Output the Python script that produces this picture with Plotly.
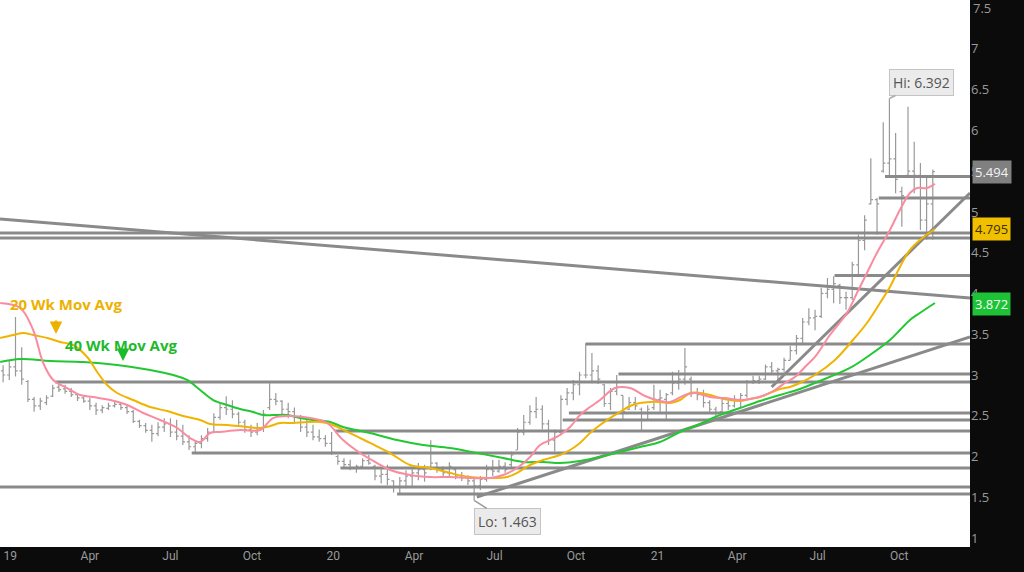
import pandas as pd
import plotly.graph_objects as go

# ---------------- data ----------------
week_start = "2018-12-24"
n_weeks = 151

opens = [3.05, 3.00, 3.10, 3.05, 2.92, 2.70, 2.62, 2.66, 2.74, 2.85,
         2.83, 2.80, 2.76, 2.72, 2.68, 2.62, 2.57, 2.59, 2.62, 2.64,
         2.60, 2.55, 2.43, 2.38, 2.32, 2.28, 2.36, 2.40, 2.30, 2.25,
         2.18, 2.12, 2.16, 2.22, 2.30, 2.48, 2.60, 2.58, 2.52, 2.42,
         2.33, 2.30, 2.35, 2.60, 2.70, 2.68, 2.58, 2.55, 2.48, 2.36,
         2.30, 2.24, 2.22, 2.16, 2.00, 1.94, 1.90, 1.86, 1.88, 1.95,
         1.88, 1.76, 1.78, 1.70, 1.62, 1.70, 1.76, 1.80, 1.84, 1.86,
         1.92, 1.84, 1.80, 1.84, 1.76, 1.74, 1.70, 1.64, 1.72, 1.84,
         1.82, 1.88, 1.90, 2.08, 2.30, 2.42, 2.55, 2.58, 2.40, 2.20,
         2.30, 2.70, 2.78, 2.88, 3.00, 3.00, 3.05, 2.88, 2.65, 2.80,
         2.75, 2.58, 2.66, 2.58, 2.45, 2.60, 2.70, 2.70, 2.78, 2.90,
         2.95, 2.95, 2.78, 2.76, 2.66, 2.58, 2.55, 2.65, 2.62, 2.70,
         2.75, 2.92, 2.93, 2.95, 3.10, 3.05, 3.07, 3.18, 3.30, 3.45,
         3.65, 3.70, 3.72, 4.00, 4.05, 4.10, 3.95, 3.95, 4.35, 4.65,
         5.10, 5.15, 5.50, 5.60, 5.65, 5.25, 5.45, 5.50, 5.45, 4.90,
         5.10]
highs = [3.12, 3.18, 3.71, 3.34, 2.94, 2.73, 2.72, 2.75, 2.88, 2.91,
         2.88, 2.84, 2.78, 2.75, 2.72, 2.66, 2.63, 2.66, 2.69, 2.67,
         2.63, 2.57, 2.45, 2.41, 2.39, 2.42, 2.47, 2.47, 2.45, 2.39,
         2.26, 2.20, 2.26, 2.35, 2.53, 2.66, 2.74, 2.69, 2.55, 2.45,
         2.39, 2.41, 2.57, 2.90, 2.78, 2.69, 2.66, 2.60, 2.51, 2.45,
         2.39, 2.33, 2.26, 2.30, 2.02, 1.98, 1.96, 1.90, 1.98, 2.02,
         1.90, 1.87, 1.90, 1.71, 1.75, 1.83, 1.86, 1.92, 1.90, 2.20,
         1.93, 1.88, 1.93, 1.86, 1.81, 1.77, 1.74, 1.76, 1.90, 1.96,
         1.96, 1.93, 2.06, 2.35, 2.51, 2.63, 2.73, 2.63, 2.45, 2.33,
         2.75, 2.84, 2.94, 3.04, 3.39, 3.27, 3.12, 2.89, 2.84, 3.00,
         2.75, 2.73, 2.73, 2.60, 2.63, 2.88, 2.82, 2.78, 3.04, 3.06,
         3.33, 2.98, 2.84, 2.82, 2.69, 2.61, 2.73, 2.69, 2.75, 2.78,
         2.94, 2.99, 2.99, 3.13, 3.16, 3.09, 3.21, 3.36, 3.49, 3.70,
         3.82, 3.80, 4.07, 4.19, 4.21, 4.12, 4.02, 4.39, 4.72, 4.96,
         5.66, 5.17, 6.10, 6.392, 5.97, 5.31, 6.29, 5.86, 5.60, 5.43,
         5.52]
lows = [2.91, 2.94, 2.98, 2.88, 2.67, 2.55, 2.57, 2.63, 2.73, 2.79,
        2.77, 2.73, 2.68, 2.66, 2.57, 2.51, 2.53, 2.57, 2.60, 2.57,
        2.52, 2.41, 2.35, 2.29, 2.18, 2.25, 2.30, 2.24, 2.20, 2.14,
        2.08, 2.04, 2.10, 2.18, 2.30, 2.45, 2.51, 2.47, 2.39, 2.29,
        2.24, 2.26, 2.30, 2.57, 2.63, 2.51, 2.47, 2.42, 2.30, 2.24,
        2.20, 2.18, 2.12, 2.02, 1.90, 1.87, 1.83, 1.80, 1.86, 1.90,
        1.71, 1.67, 1.65, 1.56, 1.54, 1.61, 1.63, 1.71, 1.69, 1.83,
        1.80, 1.74, 1.76, 1.72, 1.70, 1.65, 1.463, 1.59, 1.69, 1.76,
        1.80, 1.80, 1.87, 2.08, 2.26, 2.39, 2.47, 2.33, 2.14, 2.06,
        2.26, 2.63, 2.69, 2.75, 2.96, 2.90, 2.89, 2.61, 2.57, 2.75,
        2.45, 2.57, 2.57, 2.30, 2.45, 2.57, 2.55, 2.45, 2.75, 2.82,
        2.88, 2.73, 2.69, 2.60, 2.55, 2.45, 2.55, 2.57, 2.60, 2.60,
        2.72, 2.89, 2.89, 2.94, 3.01, 2.94, 3.04, 3.18, 3.25, 3.37,
        3.61, 3.55, 3.70, 3.94, 3.88, 3.87, 3.80, 3.92, 4.23, 4.53,
        5.09, 4.72, 5.48, 5.43, 5.23, 4.82, 5.43, 5.23, 4.78, 4.66,
        4.66]
closes = [3.00, 3.10, 3.05, 2.95, 2.70, 2.62, 2.68, 2.72, 2.84, 2.82,
          2.80, 2.76, 2.72, 2.68, 2.62, 2.57, 2.60, 2.62, 2.64, 2.60,
          2.55, 2.43, 2.38, 2.32, 2.28, 2.36, 2.40, 2.30, 2.25, 2.18,
          2.12, 2.16, 2.22, 2.30, 2.48, 2.60, 2.58, 2.52, 2.42, 2.33,
          2.30, 2.35, 2.52, 2.70, 2.68, 2.58, 2.55, 2.48, 2.36, 2.30,
          2.24, 2.22, 2.16, 2.05, 1.94, 1.90, 1.86, 1.88, 1.95, 1.92,
          1.76, 1.78, 1.72, 1.62, 1.70, 1.76, 1.80, 1.84, 1.80, 1.92,
          1.84, 1.80, 1.88, 1.76, 1.74, 1.70, 1.64, 1.72, 1.84, 1.82,
          1.88, 1.84, 2.02, 2.30, 2.42, 2.55, 2.58, 2.40, 2.20, 2.30,
          2.70, 2.78, 2.88, 3.00, 3.00, 3.05, 2.95, 2.65, 2.80, 2.85,
          2.55, 2.66, 2.62, 2.45, 2.58, 2.70, 2.72, 2.76, 2.90, 2.95,
          3.10, 2.78, 2.76, 2.66, 2.58, 2.54, 2.65, 2.62, 2.70, 2.75,
          2.92, 2.93, 2.95, 3.10, 3.05, 3.07, 3.18, 3.30, 3.45, 3.65,
          3.70, 3.72, 4.00, 4.05, 4.12, 3.95, 3.95, 4.35, 4.65, 4.90,
          5.15, 5.10, 5.60, 5.65, 5.40, 5.20, 5.50, 5.45, 4.90, 5.10,
          5.494]

# moving averages (week offset from week_start, value)
ma10_wk = [-0.47, 2.76, 4.85, 6.47, 8.08, 10.34, 12.44, 14.53, 17.27, 20.02,
           22.6, 25.34, 28.08, 30.18, 31.79, 33.40, 35.0, 38.24, 41.47, 43.56,
           46.31, 49.53, 52.27, 54.85, 57.6, 60.34, 62.44, 65.66, 68.89, 72.11,
           75.34, 78.56, 80.66, 82.92, 85.02, 86.63, 88.24, 89.85, 91.47, 93.08,
           94.69, 96.31, 98.73, 101.15, 103.56, 105.98, 107.60, 110.02, 111.63, 114.05,
           116.47, 118.89, 121.31, 122.92, 124.53, 126.15, 127.76, 129.37, 130.98, 133.4,
           136.15, 137.76, 139.37, 140.98, 143.08, 144.69, 146.31, 147.44, 149.05, 150.34]
ma10_val = [3.883, 3.822, 3.552, 3.147, 2.939, 2.840, 2.755, 2.730, 2.693, 2.632,
            2.534, 2.448, 2.350, 2.227, 2.178, 2.288, 2.301, 2.325, 2.325, 2.472,
            2.497, 2.472, 2.411, 2.202, 2.043, 1.920, 1.834, 1.773, 1.748, 1.748,
            1.736, 1.736, 1.773, 1.859, 1.994, 2.141, 2.202, 2.264, 2.362, 2.509,
            2.607, 2.693, 2.840, 2.840, 2.742, 2.681, 2.669, 2.755, 2.779, 2.730,
            2.718, 2.693, 2.718, 2.755, 2.816, 2.902, 2.975, 3.098, 3.221, 3.491,
            3.761, 4.006, 4.252, 4.497, 4.779, 5.025, 5.233, 5.294, 5.294, 5.344]

ma20_wk = [-0.47, 1.63, 3.24, 4.85, 7.11, 9.21, 11.31, 13.56, 15.18, 16.79,
           18.40, 20.98, 23.73, 26.47, 29.05, 31.79, 33.40, 36.15, 39.37, 41.47,
           43.08, 44.69, 46.79, 49.05, 51.15, 52.76, 55.98, 59.21, 62.44, 65.66,
           68.89, 72.11, 75.34, 78.56, 81.31, 82.92, 85.02, 87.11, 89.85, 91.47,
           93.08, 94.69, 96.31, 97.92, 99.53, 101.15, 102.76, 104.37, 105.98, 107.60,
           109.21, 110.82, 112.44, 114.05, 115.66, 117.27, 118.89, 120.5, 122.11, 123.73,
           125.34, 126.95, 128.56, 130.98, 134.21, 137.11, 139.37, 141.47, 143.08, 144.69,
           146.31, 147.92, 150.34]
ma20_val = [3.454, 3.491, 3.515, 3.491, 3.454, 3.405, 3.368, 3.221, 3.037, 2.877,
            2.779, 2.693, 2.607, 2.558, 2.497, 2.448, 2.399, 2.387, 2.362, 2.350,
            2.374, 2.411, 2.411, 2.423, 2.423, 2.399, 2.288, 2.166, 2.043, 1.896,
            1.859, 1.798, 1.748, 1.736, 1.748, 1.798, 1.896, 1.957, 2.018, 2.080,
            2.166, 2.288, 2.387, 2.472, 2.546, 2.620, 2.656, 2.669, 2.669, 2.656,
            2.693, 2.779, 2.779, 2.755, 2.718, 2.693, 2.681, 2.706, 2.730, 2.779,
            2.828, 2.853, 2.902, 3.000, 3.184, 3.429, 3.638, 3.883, 4.080, 4.325,
            4.534, 4.656, 4.791]

ma40_wk = [-0.47, 2.76, 7.60, 12.92, 18.40, 23.73, 27.44, 29.69, 31.79, 33.89,
           36.15, 38.24, 40.34, 41.95, 43.56, 45.82, 47.92, 50.02, 52.76, 54.85,
           59.21, 63.56, 67.76, 72.11, 76.47, 80.66, 83.89, 87.11, 89.85, 93.08,
           96.31, 99.53, 102.76, 105.98, 109.21, 112.44, 115.66, 118.89, 122.11, 125.34,
           128.56, 130.98, 136.63, 139.85, 143.08, 144.69, 146.31, 147.92, 150.34]
ma40_val = [3.160, 3.196, 3.172, 3.160, 3.123, 3.061, 3.000, 2.939, 2.816, 2.693,
            2.632, 2.583, 2.546, 2.509, 2.509, 2.509, 2.472, 2.448, 2.423, 2.362,
            2.288, 2.202, 2.141, 2.104, 2.043, 1.982, 1.933, 1.933, 1.920, 1.945,
            1.994, 2.055, 2.117, 2.178, 2.301, 2.399, 2.509, 2.595, 2.681, 2.755,
            2.828, 2.902, 3.086, 3.245, 3.429, 3.552, 3.675, 3.761, 3.883]

x_start = "2018-12-20 12:00"
x_end = "2021-12-20"

# horizontal support / resistance lines (start date, level)
hline_start = [x_start, x_start, "2021-09-15", "2021-09-08", "2021-07-20",
               "2020-10-12", "2020-11-18", "2019-02-21", "2020-09-23", "2020-09-16",
               "2020-01-03", "2019-07-25", "2020-01-09", x_start, "2020-03-13"]
hline_val = [4.742, 4.681, 5.436, 5.172, 4.221,
             3.380, 3.012, 2.914, 2.534, 2.448,
             2.313, 2.043, 1.859, 1.626, 1.540]

# trend lines
trend_x0 = [x_start, "2021-05-10", "2020-06-11"]
trend_y0 = [4.914, 2.853, 1.503]
trend_x1 = [x_end, x_end, x_end]
trend_y1 = [3.945, 5.233, 3.466]

x_tickvals = ["2019-01-01", "2019-04-01", "2019-07-01", "2019-10-01",
              "2020-01-01", "2020-04-01", "2020-07-01", "2020-10-01",
              "2021-01-01", "2021-04-01", "2021-07-01", "2021-10-01"]
x_ticktext = ["19", "Apr", "Jul", "Oct", "20", "Apr", "Jul", "Oct",
              "21", "Apr", "Jul", "Oct"]
top_tick = 7.5

last_price = 5.494
ma20_last = 4.795
ma40_last = 3.872
hi_val, hi_idx = 6.392, 143
lo_val, lo_idx = 1.463, 76

# ---------------- figure ----------------
t0 = pd.Timestamp(week_start)
weeks = [t0 + pd.Timedelta(days=7 * i) for i in range(n_weeks)]
to_date = lambda wk: [t0 + pd.Timedelta(days=7 * w) for w in wk]

LINE_GRAY = "#8a8a8a"
PINK = "#FA8CA2"
GOLD = "#F0B400"
GREEN = "#22C832"
TICK_FONT = dict(family="Open Sans", size=13, color="#9a9a9a")

fig = go.Figure()

for s, v in zip(hline_start, hline_val):
    fig.add_trace(go.Scatter(x=[s, x_end], y=[v, v], mode="lines",
                             line=dict(color=LINE_GRAY, width=3),
                             hoverinfo="skip", showlegend=False))
for a, b, c, d in zip(trend_x0, trend_y0, trend_x1, trend_y1):
    fig.add_trace(go.Scatter(x=[a, c], y=[b, d], mode="lines",
                             line=dict(color=LINE_GRAY, width=3),
                             hoverinfo="skip", showlegend=False))

fig.add_trace(go.Ohlc(x=weeks, open=opens, high=highs, low=lows, close=closes,
                      increasing=dict(line=dict(color="#999999", width=1.2)),
                      decreasing=dict(line=dict(color="#999999", width=1.2)),
                      tickwidth=0.35, showlegend=False))

fig.add_trace(go.Scatter(x=to_date(ma40_wk), y=ma40_val, mode="lines",
                         line=dict(color=GREEN, width=2, shape="spline"), showlegend=False))
fig.add_trace(go.Scatter(x=to_date(ma20_wk), y=ma20_val, mode="lines",
                         line=dict(color=GOLD, width=2, shape="spline"), showlegend=False))
fig.add_trace(go.Scatter(x=to_date(ma10_wk), y=ma10_val, mode="lines",
                         line=dict(color=PINK, width=2, shape="spline"), showlegend=False))

ann = []
ann.append(dict(xref="paper", yref="paper", x=8 / 970, y=1 - 304 / 547, xanchor="left",
                yanchor="middle", text="<b>20 Wk Mov Avg</b>", showarrow=False,
                font=dict(family="Open Sans", size=15, color="#EDB100")))
ann.append(dict(xref="paper", yref="paper", x=63 / 970, y=1 - 345 / 547, xanchor="left",
                yanchor="middle", text="<b>40 Wk Mov Avg</b>", showarrow=False,
                font=dict(family="Open Sans", size=15, color="#1DBA2C")))
ann.append(dict(xref="paper", yref="paper", x=56 / 970, y=1 - 334 / 547, text="",
                showarrow=True, ax=0, ay=-15, arrowhead=2, arrowsize=1, arrowwidth=2.5,
                arrowcolor="#EDB100"))
ann.append(dict(xref="paper", yref="paper", x=123 / 970, y=1 - 361 / 547, text="",
                showarrow=True, ax=0, ay=-13, arrowhead=2, arrowsize=1, arrowwidth=2.5,
                arrowcolor="#1DBA2C"))
ann.append(dict(x=weeks[hi_idx], y=hi_val, xref="x", yref="y", text=f"Hi: {hi_val}",
                showarrow=True, ax=32, ay=-16, arrowhead=0, arrowwidth=1.5, arrowcolor="#aaaaaa",
                bgcolor="#ebebeb", bordercolor="#c4c4c4", borderwidth=1, borderpad=3,
                font=dict(family="Open Sans", size=14, color="#555555")))
ann.append(dict(x=weeks[lo_idx], y=lo_val, xref="x", yref="y", text=f"Lo: {lo_val}",
                showarrow=True, ax=33, ay=21, arrowhead=0, arrowwidth=1.5, arrowcolor="#999999",
                bgcolor="#ebebeb", bordercolor="#c4c4c4", borderwidth=1, borderpad=3,
                font=dict(family="Open Sans", size=14, color="#555555")))
# top tick label (plotly drops it at the very edge of the plot)
ann.append(dict(xref="paper", yref="y", x=1, y=top_tick, xanchor="left", xshift=1,
                yanchor="middle", text=f"{top_tick}", showarrow=False, font=TICK_FONT))
for val, bg, fg in [(last_price, "#808080", "#f2f2f2"),
                    (ma20_last, "#F0C000", "#3a3000"),
                    (ma40_last, "#1EC237", "#f2fff2")]:
    ann.append(dict(xref="paper", yref="y", x=1, y=val, xanchor="left", xshift=2,
                    text=f"{val:.3f}", showarrow=False, bgcolor=bg, borderpad=2,
                    font=dict(family="Open Sans", size=13, color=fg)))

fig.update_layout(
    width=1024, height=572,
    margin=dict(l=0, r=54, t=0, b=25, autoexpand=False),
    paper_bgcolor="#0b0b0b", plot_bgcolor="#ffffff",
    annotations=ann,
    showlegend=False,
    xaxis=dict(type="date", range=[x_start, x_end], rangeslider=dict(visible=False),
               tickvals=x_tickvals, ticktext=x_ticktext, showgrid=False, zeroline=False,
               ticks="", automargin=False,
               tickfont=dict(family="Liberation Sans Narrow, Roboto, sans-serif",
                             size=12, color="#9a9a9a")),
    yaxis=dict(side="right", range=[0.89, 7.60], tick0=1, dtick=0.5, showgrid=False,
               zeroline=False, ticks="", automargin=False, tickfont=TICK_FONT),
)

fig.write_html("out.html", config={"displayModeBar": False},
               post_script="document.body.style.margin='0';document.body.style.overflow='hidden';")
